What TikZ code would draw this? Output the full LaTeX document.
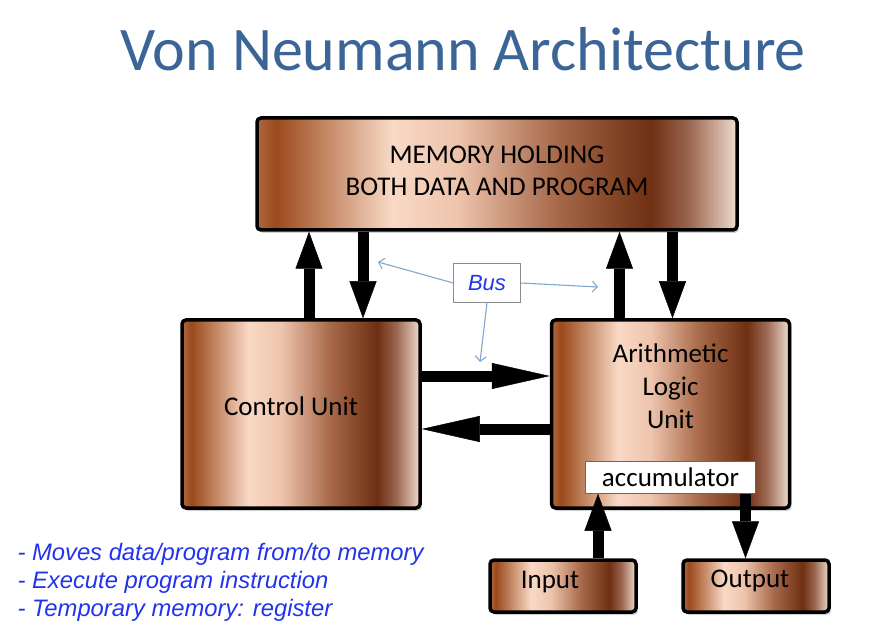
\documentclass[tikz,border=0pt]{standalone}
\usepackage{fontspec}
\setmainfont{Carlito}
\newfontfamily\arialfont{Liberation Sans}
\usetikzlibrary{arrows.meta, shadows, positioning}

\definecolor{titleblue}{HTML}{3B6596}
\definecolor{notesblue}{HTML}{2233EE}
\definecolor{buslink}{HTML}{7FA7D0}
\definecolor{cpA}{HTML}{B0683F}
\definecolor{cpB}{HTML}{9B4A1C}
\definecolor{cpC}{HTML}{F9D9C5}
\definecolor{cpD}{HTML}{EDC3AB}
\definecolor{cpE}{HTML}{A86A4B}
\definecolor{cpF}{HTML}{6F2F12}
\definecolor{cpG}{HTML}{9A6650}
\definecolor{cpH}{HTML}{F0DCCF}
\pgfdeclarehorizontalshading{copper}{100bp}{color(0bp)=(cpA); color(25bp)=(cpA); color(27bp)=(cpB); color(39bp)=(cpC); color(46bp)=(cpD); color(56bp)=(cpE); color(66bp)=(cpF); color(70bp)=(cpG); color(75bp)=(cpH); color(100bp)=(cpH)}

\tikzset{
  copperbox/.style = {draw = black, line width = 3.5pt, rounded corners = 4pt, shading = copper,
    drop shadow = {opacity = 0.35, shadow xshift = 2pt, shadow yshift = -3pt}},
  boxtext/.style = {font = \fontsize{27}{32}\selectfont, align = center, text = black},
  bigarrow/.style = {line width = 11pt, -{Triangle[length = 37pt, width = 27pt, line width = 0.5pt]}},
  longarrow/.style = {line width = 11pt, -{Triangle[length = 58pt, width = 26pt, line width = 0.5pt]}},
  buslink/.style = {draw = buslink, line width = 1.1pt, -{Straight Barb[length = 5pt, width = 11pt]}}
}

\begin{document}
\begin{tikzpicture}[x = 1pt, y = 1pt]
  \useasboundingbox (0,0) rectangle (870,630);

  \node [font = \fontsize{62}{70}\selectfont, text = titleblue] (title) at (463,581) {Von Neumann Architecture};

  \node [copperbox, minimum width = 480pt, minimum height = 112pt] (mem) at (497,456) {};
  \node [boxtext] (memtxt) at ([yshift = 3pt]mem.center) {MEMORY HOLDING\\BOTH DATA AND PROGRAM};

  \node [copperbox, minimum width = 238pt, minimum height = 188pt] (cu) at (301,216) {};
  \node [boxtext] (cutxt) at ([xshift = -10pt, yshift = 8pt]cu.center) {Control Unit};

  \node [copperbox, minimum width = 238pt, minimum height = 188pt, right = 128pt of cu] (alu) {};
  \node [boxtext, font = \fontsize{27}{33}\selectfont, below = 22pt of alu.north] (alutxt) {Arithmetic\\Logic\\Unit};
  \node [draw = black!60, line width = 1pt, fill = white, minimum width = 170pt, minimum height = 32pt,
    inner sep = 0pt, font = \fontsize{27}{30}\selectfont, above = 16pt of alu.south] (acc) {accumulator};

  \node [copperbox, minimum width = 146pt, minimum height = 52pt] (inp) at (563,44) {};
  \node [boxtext] (inptxt) at ([xshift = -13pt, yshift = 4pt]inp.center) {Input};
  \node [copperbox, minimum width = 146pt, minimum height = 52pt] (out) at (756,44) {};
  \node [boxtext] (outtxt) at ([xshift = -6pt, yshift = 5pt]out.center) {Output};

  % memory <-> control unit and ALU
  \draw [bigarrow] ([xshift = 8pt]cu.north) -- ([xshift = 8pt]cu.north |- mem.south);
  \draw [bigarrow] ([xshift = 62pt]cu.north |- mem.south) -- ([xshift = 62pt]cu.north);
  \draw [bigarrow] ([xshift = -51pt]alu.north) -- ([xshift = -51pt]alu.north |- mem.south);
  \draw [bigarrow] ([xshift = 2pt]alu.north |- mem.south) -- ([xshift = 2pt]alu.north);

  % control unit <-> ALU
  \draw [longarrow] ([yshift = 38pt]cu.east) -- ([yshift = 38pt]cu.east -| alu.west);
  \draw [longarrow] ([yshift = -15pt]cu.east -| alu.west) -- ([yshift = -15pt]cu.east);

  % input / output
  \draw [bigarrow] ([xshift = 35pt]inp.north) -- ([xshift = 35pt]inp.north |- acc.south);
  \draw [bigarrow] ([xshift = 75pt]acc.south) -- ([xshift = 75pt]acc.south |- out.north);

  % bus callout
  \node [draw = black!45, fill = white, minimum width = 67pt, minimum height = 39pt,
    font = \arialfont\itshape\fontsize{22}{24}\selectfont, text = notesblue] (bus) at (487,347) {Bus};
  \coordinate (busL) at (378,368);
  \coordinate (busR) at (598,343);
  \coordinate (busD) at (480,268);
  \draw [buslink] (bus.west) -- (busL);
  \draw [buslink] (bus.east) -- (busR);
  \draw [buslink] (bus.south) -- (busD);

  \node [anchor = north west, align = left, text = notesblue,
    font = \arialfont\itshape\fontsize{23.8}{28}\selectfont] (notes) at (14,90)
    {- Moves data/program from/to memory\\- Execute program instruction\\- Temporary memory: register};
\end{tikzpicture}
\end{document}
